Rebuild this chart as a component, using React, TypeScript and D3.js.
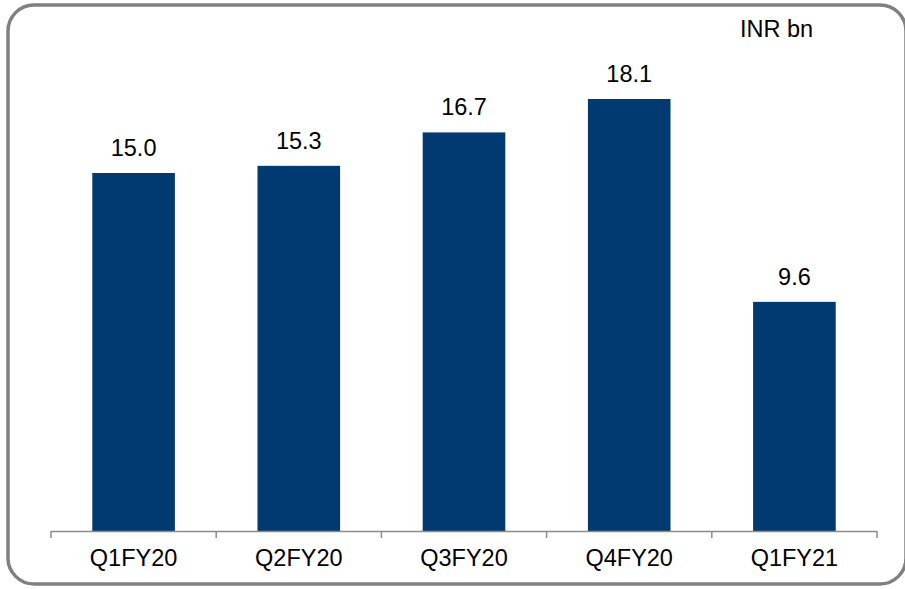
import React from "react";
import * as d3 from "d3";

const categories = ["Q1FY20", "Q2FY20", "Q3FY20", "Q4FY20", "Q1FY21"];
const values = [15.0, 15.3, 16.7, 18.1, 9.6];
const unitLabel = "INR bn";

const W = 905;
const H = 589;
const FONT = "Liberation Sans, Arial, sans-serif";

export default function App() {
  const x = d3.scaleBand<string>().domain(categories).range([51, 877]).paddingInner(0.5).paddingOuter(0.25);
  const y = d3.scaleLinear().domain([0, 18.1]).range([531, 99]);
  const step = x.step();
  const tickXs = d3.range(categories.length + 1).map((i) => 51 + i * step);

  return (
    <svg width={W} height={H} style={{ position: "absolute", left: 0, top: 0 }}>
      <rect x={8} y={5} width={898} height={579} rx={26} ry={26} fill="white" stroke="#808080" strokeWidth={3.5} />
      {categories.map((c, i) => (
        <g key={c}>
          <rect x={x(c)} y={y(values[i])} width={x.bandwidth()} height={y(0) - y(values[i])} fill="#003A70" />
          <text x={(x(c) as number) + x.bandwidth() / 2} y={y(values[i]) - 17} textAnchor="middle" fontFamily={FONT} fontSize={23.5} fill="#000">
            {values[i].toFixed(1)}
          </text>
          <text x={(x(c) as number) + x.bandwidth() / 2} y={566} textAnchor="middle" fontFamily={FONT} fontSize={23.5} fill="#000">
            {c}
          </text>
        </g>
      ))}
      <line x1={51} x2={877} y1={531.5} y2={531.5} stroke="#8c8c8c" strokeWidth={1.5} />
      {tickXs.map((t, i) => (
        <line key={i} x1={t} x2={t} y1={531} y2={538} stroke="#8c8c8c" strokeWidth={1.5} />
      ))}
      <text x={740} y={37} fontFamily={FONT} fontSize={23.5} fill="#000">
        {unitLabel}
      </text>
    </svg>
  );
}
